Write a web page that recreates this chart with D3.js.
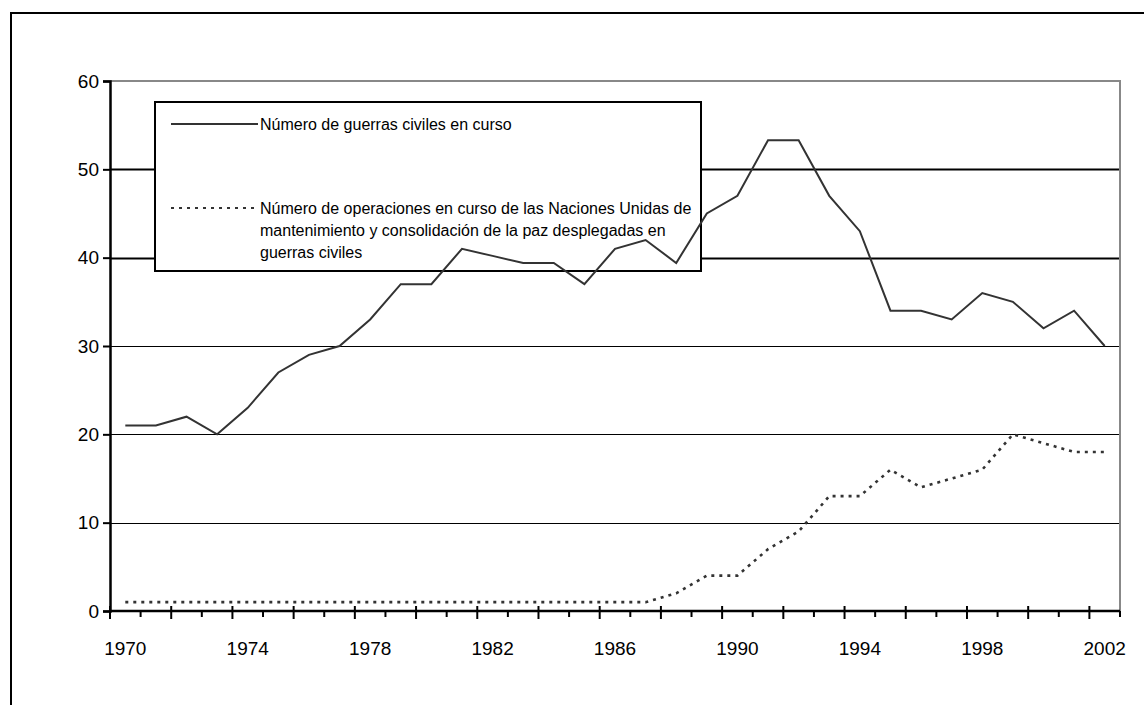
<!DOCTYPE html>
<html>
<head>
<meta charset="utf-8">
<script src="https://cdn.jsdelivr.net/npm/d3@7"></script>
<style>
  body { margin: 0; background: #fff; }
  svg { font-family: "Liberation Sans", Arial, sans-serif; }
</style>
</head>
<body>
<svg id="chart" width="1144" height="705"></svg>
<script>
// ---------------------------//
//            DATA            //
// ---------------------------//

var years = [1970, 1971, 1972, 1973, 1974, 1975, 1976, 1977, 1978, 1979,
             1980, 1981, 1982, 1983, 1984, 1985, 1986, 1987, 1988, 1989,
             1990, 1991, 1992, 1993, 1994, 1995, 1996, 1997, 1998, 1999,
             2000, 2001, 2002];

// civil wars under way
var civilWars = [21, 21, 22, 20, 23, 27, 29, 30, 33, 37,
                 37, 41, 40.2, 39.4, 39.4, 37, 41, 42, 39.4, 45,
                 47, 53.3, 53.3, 47, 43, 34, 34, 33, 36, 35,
                 32, 34, 30];

// UN peace operations deployed in civil wars
var peaceOps = [1, 1, 1, 1, 1, 1, 1, 1, 1, 1,
                1, 1, 1, 1, 1, 1, 1, 1, 2, 4,
                4, 7, 9, 13, 13, 16, 14, 15, 16, 20,
                19, 18, 18];

var yTicks = [0, 10, 20, 30, 40, 50, 60];
var xLabels = [1970, 1974, 1978, 1982, 1986, 1990, 1994, 1998, 2002];

var legendItems = [
  { lines: ["Número de guerras civiles en curso"], dash: null },
  { lines: ["Número de operaciones en curso de las Naciones Unidas de",
            "mantenimiento y consolidación de la paz desplegadas en",
            "guerras civiles"], dash: "3,5" }
];

// ---------------------------//
//         DIMENSIONS         //
// ---------------------------//

var plot = { left: 110, right: 1120, top: 81, bottom: 611 };

var svg = d3.select("#chart");

// outer frame
svg.append("path")
    .attr("d", "M11,705 L11,13 L1144,13")
    .attr("fill", "none")
    .attr("stroke", "#000")
    .attr("stroke-width", 2);

// ---------------------------//
//       AXIS  AND SCALE      //
// ---------------------------//

var x = d3.scaleBand()
    .domain(years)
    .range([plot.left, plot.right])
    .padding(0);

var y = d3.scaleLinear()
    .domain([0, 60])
    .range([plot.bottom, plot.top]);

var cx = function(d, i) { return x(years[i]) + x.bandwidth() / 2; };

// gridlines
svg.append("g")
    .selectAll("line")
    .data(yTicks.filter(function(d) { return d > 0 && d < 60; }))
    .enter().append("line")
    .attr("x1", plot.left)
    .attr("x2", plot.right)
    .attr("y1", function(d) { return Math.round(y(d)) + 0.5; })
    .attr("y2", function(d) { return Math.round(y(d)) + 0.5; })
    .attr("stroke", "#000")
    .attr("stroke-width", function(d) { return d >= 40 ? 2 : 1; });

// plot border top / right (gray)
svg.append("path")
    .attr("d", "M" + plot.left + "," + y(60) + " L" + plot.right + "," + y(60) + " L" + plot.right + "," + y(0))
    .attr("fill", "none")
    .attr("stroke", "#888")
    .attr("stroke-width", 2);

// y axis
var yAxis = svg.append("g")
    .attr("transform", "translate(" + plot.left + ",0)")
    .call(d3.axisLeft(y).tickValues(yTicks).tickSize(7).tickPadding(4));
yAxis.select(".domain").attr("stroke-width", 2.5);
yAxis.selectAll(".tick line").attr("stroke-width", 2);
yAxis.selectAll(".tick text")
    .attr("font-size", 19)
    .attr("font-family", "Liberation Sans, Arial, sans-serif")
    .attr("fill", "#000");

// x axis: labels
var xAxis = svg.append("g")
    .attr("transform", "translate(0," + plot.bottom + ")")
    .call(d3.axisBottom(x).tickValues(xLabels).tickSize(0).tickPadding(31));
xAxis.select(".domain").remove();
xAxis.selectAll(".tick text")
    .attr("font-size", 19)
    .attr("font-family", "Liberation Sans, Arial, sans-serif")
    .attr("fill", "#000");

// x axis: category boundary ticks
var boundaries = years.map(function(d) { return x(d); }).concat([plot.right]);
svg.append("g")
    .selectAll("line")
    .data(boundaries)
    .enter().append("line")
    .attr("x1", function(d) { return d; })
    .attr("x2", function(d) { return d; })
    .attr("y1", function(d, i) { return i % 2 === 0 ? y(0) - 5 : y(0); })
    .attr("y2", function(d, i) { return i % 2 === 0 ? y(0) + 8 : y(0) + 6; })
    .attr("stroke", "#000")
    .attr("stroke-width", 2);

svg.append("line")
    .attr("x1", plot.left - 1)
    .attr("x2", plot.right)
    .attr("y1", y(0))
    .attr("y2", y(0))
    .attr("stroke", "#000")
    .attr("stroke-width", 2.5);

// ---------------------------//
//           LEGEND           //
// ---------------------------//

var legend = svg.append("g").attr("class", "legend");

legend.append("rect")
    .attr("x", 155)
    .attr("y", 102)
    .attr("width", 546)
    .attr("height", 169)
    .attr("fill", "#fff")
    .attr("stroke", "#000")
    .attr("stroke-width", 2);

var legendRows = [124, 208];

legendItems.forEach(function(item, i) {
  var ly = legendRows[i];
  legend.append("line")
      .attr("x1", 171)
      .attr("x2", 258)
      .attr("y1", ly)
      .attr("y2", ly)
      .attr("stroke", "#333")
      .attr("stroke-width", 2)
      .attr("stroke-dasharray", item.dash);
  item.lines.forEach(function(t, j) {
    legend.append("text")
        .attr("x", 260)
        .attr("y", ly + j * 22)
        .attr("dy", "0.35em")
        .attr("font-size", 16)
        .attr("fill", "#000")
        .text(t);
  });
});

// ---------------------------//
//           DRAWING          //
// ---------------------------//

var line = d3.line()
    .x(function(d, i) { return cx(d, i); })
    .y(function(d) { return y(d); });

svg.append("path")
    .datum(civilWars)
    .attr("d", line)
    .attr("fill", "none")
    .attr("stroke", "#333")
    .attr("stroke-width", 2);

svg.append("path")
    .datum(peaceOps)
    .attr("d", line)
    .attr("fill", "none")
    .attr("stroke", "#333")
    .attr("stroke-width", 2.6)
    .attr("stroke-dasharray", "3,5");
</script>
</body>
</html>
